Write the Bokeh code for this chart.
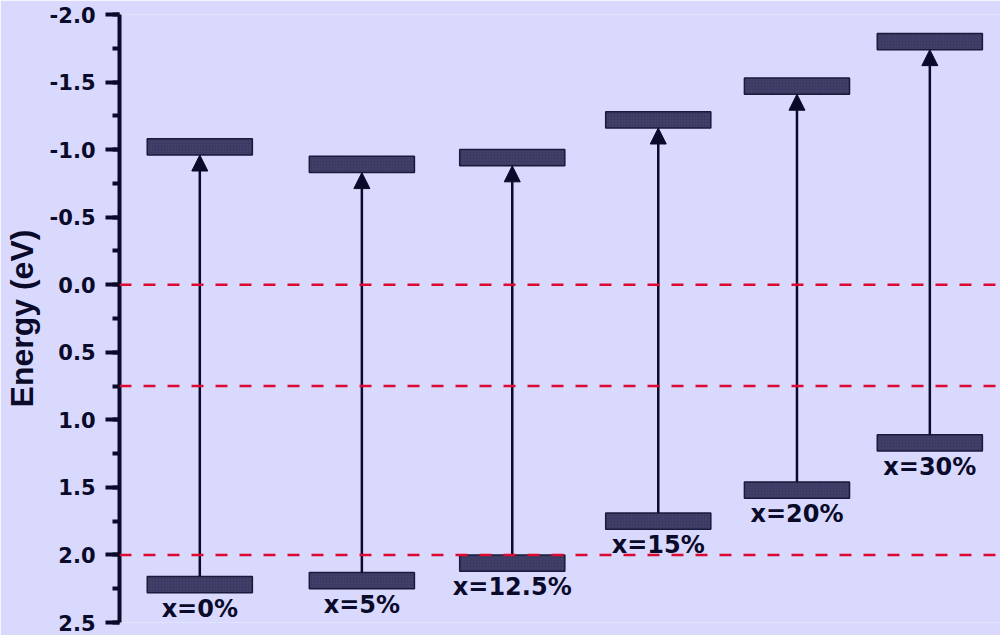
import numpy as np
from bokeh.plotting import figure
from bokeh.models import (Range1d, Arrow, NormalHead, Span, SingleIntervalTicker,
                          NumeralTickFormatter, ColumnDataSource)
from bokeh.core.properties import value
from bokeh.embed import file_html
from bokeh.resources import INLINE

# Band edges (eV) for each composition
compositions = ["x=0%", "x=5%", "x=12.5%", "x=15%", "x=20%", "x=30%"]
slot = [0.95, 2.06, 3.09, 4.09, 5.04, 5.95]          # horizontal slot of each composition
cb_edge = [-0.96, -0.83, -0.88, -1.16, -1.41, -1.74]  # conduction band edge
vb_edge = [2.16, 2.13, 2.00, 1.69, 1.46, 1.11]        # valence band edge
ref_levels = [0.0, 0.75, 2.0]                          # reference potentials

BG = "#d9d9fd"
NAVY = "#0a0a2a"
BAR_FILL = "#40406a"
BAR_EDGE = "#1a1a3c"
RED = "#dc0a32"
BAR_W = 0.72
BAR_T = 0.12

x = np.array(slot)
cb = np.array(cb_edge)
vb = np.array(vb_edge)

src = ColumnDataSource(dict(
    x=x, cb=cb, vb=vb,
    left=x - BAR_W / 2, right=x + BAR_W / 2,
    cb_outer=cb - BAR_T, vb_outer=vb + BAR_T,
    label=compositions,
))

p = figure(width=1000, height=635, output_backend="svg", toolbar_location=None,
           x_range=Range1d(0.4, 6.434), y_range=Range1d(2.5, -2.0),
           x_axis_type=None,
           min_border_left=119, min_border_right=0, min_border_top=14, min_border_bottom=13)
p.background_fill_color = BG
p.border_fill_color = BG
p.outline_line_color = None
p.grid.visible = False

# band bars
bar_style = dict(fill_color=BAR_FILL, line_color=BAR_EDGE, line_width=1.5,
                 hatch_pattern="+", hatch_color="#34345a", hatch_scale=3,
                 hatch_weight=0.6, hatch_alpha=0.7)
p.quad(left="left", right="right", top="cb_outer", bottom="cb", source=src, **bar_style)
p.quad(left="left", right="right", top="vb", bottom="vb_outer", source=src, **bar_style)

# gap arrows from valence to conduction band edge
p.add_layout(Arrow(end=NormalHead(size=16, fill_color=NAVY, line_color=NAVY, line_width=1),
                   x_start="x", y_start="vb", x_end="x", y_end="cb",
                   line_color=NAVY, line_width=2.5, source=src))

# reference potential lines
for lvl in ref_levels:
    p.add_layout(Span(location=lvl, dimension="width", line_color=RED,
                      line_width=2.5, line_dash="12 12"))

# composition labels
p.text(x="x", y="vb_outer", text="label", source=src, text_align="center",
       text_baseline="top", y_offset=2, text_color=NAVY,
       text_font=value("DejaVu Sans"), text_font_size="24px", text_font_style="bold")

ax = p.yaxis[0]
ax.ticker = SingleIntervalTicker(interval=0.5, num_minor_ticks=2)
ax.formatter = NumeralTickFormatter(format="0.0")
ax.axis_line_color = NAVY
ax.axis_line_width = 4
ax.major_tick_line_color = NAVY
ax.major_tick_line_width = 4
ax.major_tick_out = 14
ax.major_tick_in = 0
ax.minor_tick_line_color = NAVY
ax.minor_tick_line_width = 4
ax.minor_tick_out = 7
ax.minor_tick_in = 0
ax.major_label_standoff = 10
ax.major_label_text_font = "DejaVu Sans"
ax.major_label_text_font_size = "21px"
ax.major_label_text_font_style = "bold"
ax.major_label_text_color = NAVY
ax.axis_label = "Energy (eV)"
ax.axis_label_text_font = "Liberation Sans"
ax.axis_label_text_font_size = "32px"
ax.axis_label_text_font_style = "bold"
ax.axis_label_text_color = NAVY
ax.axis_label_standoff = 7

open("out.html", "w").write(file_html(p, INLINE))
